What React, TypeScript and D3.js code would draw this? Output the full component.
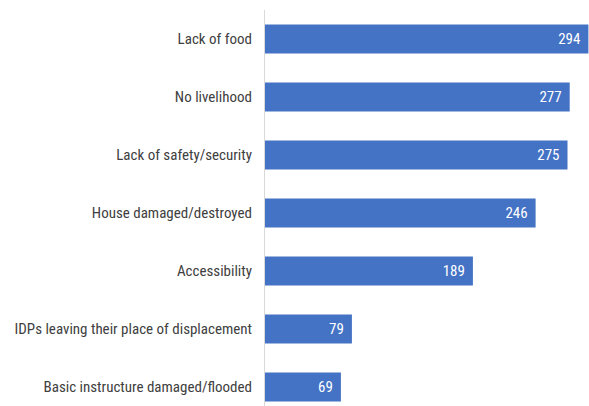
import React from 'react';
import * as d3 from 'd3';

const categories = [
  'Lack of food',
  'No livelihood',
  'Lack of safety/security',
  'House damaged/destroyed',
  'Accessibility',
  'IDPs leaving their place of displacement',
  'Basic instructure damaged/flooded',
];
const values = [294, 277, 275, 246, 189, 79, 69];

const width = 589;
const height = 406;
const margin = { top: 10, left: 265 };
const font = "'Liberation Sans Narrow', 'Roboto Condensed', 'Open Sans', sans-serif";

const App: React.FC = () => {
  const x = d3.scaleLinear().domain([0, 294]).range([margin.left, margin.left + 294 * 1.1]);
  const y = d3.scaleBand<string>()
    .domain(categories)
    .range([margin.top, margin.top + 406])
    .paddingInner(0.5)
    .paddingOuter(0.25);

  return (
    <svg
      width={width}
      height={height}
      style={{ position: 'absolute', left: 0, top: 0, background: '#fff' }}
    >
      {categories.map((c, i) => {
        const yy = y(c)!;
        const mid = yy + y.bandwidth() / 2;
        return (
          <g key={c}>
            <rect
              x={x(0)}
              y={yy}
              width={x(values[i]) - x(0)}
              height={y.bandwidth()}
              fill="#4472c4"
            />
            <text
              x={margin.left - 13}
              y={mid}
              dy="0.35em"
              textAnchor="end"
              fill="#404040"
              fontFamily={font}
              fontSize={15}
            >
              {c}
            </text>
            <text
              x={x(values[i]) - 8}
              y={mid}
              dy="0.35em"
              textAnchor="end"
              fill="#fff"
              fontFamily={font}
              fontSize={15}
            >
              {values[i]}
            </text>
          </g>
        );
      })}
      <line x1={margin.left - 0.5} x2={margin.left - 0.5} y1={margin.top} y2={height} stroke="#d9d9d9" strokeWidth={1} />
    </svg>
  );
};

export default App;
